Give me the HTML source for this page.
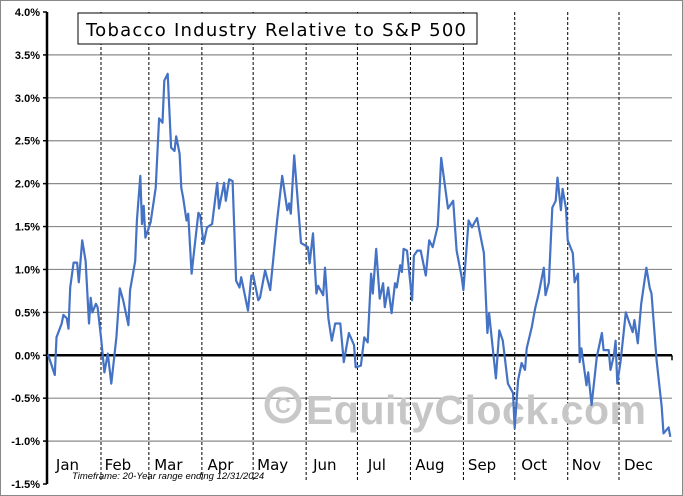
<!DOCTYPE html>
<html><head><meta charset="utf-8"><style>
html,body{margin:0;padding:0;background:#fff;}
svg{display:block;font-family:"Liberation Sans",sans-serif;}
</style></head><body>
<svg id="c" width="683" height="496" viewBox="0 0 683 496">
<rect x="0.5" y="0.5" width="682" height="495" fill="#fff" stroke="#888"/>
<g id="grid"></g>
<g id="vlines"></g>
<g id="ylabels"></g>
<g id="months"></g>
<g>
<circle cx="283" cy="405" r="16" fill="none" stroke="#c8c8c8" stroke-width="5"/>
<text x="283" y="413" font-size="22" font-weight="bold" fill="#c8c8c8" text-anchor="middle">C</text>
<text x="306" y="424" font-size="41" font-weight="bold" fill="#c6c6c6" textLength="340">EquityClock.com</text>
</g>
<line x1="47" y1="12" x2="47" y2="484" stroke="#000" stroke-width="2.5"/>
<path id="line" fill="none" stroke="#4472c4" stroke-width="2.2" stroke-linejoin="round"/>
<rect x="78" y="13" width="399" height="31" fill="#fff" stroke="#000"/>
<text x="86" y="36" font-size="18" fill="#000" font-family="DejaVu Sans, sans-serif" textLength="380">Tobacco Industry Relative to S&amp;P 500</text>
<text x="72" y="479" font-size="9.5" font-style="italic" fill="#000">Timeframe:  20-Year range ending 12/31/2024</text>
</svg>
<script>
const days=[0,4,5,8,9,11,12,13,15,17,18,20,22,24,25,26,28,29,31,33,35,37,40,42,44,47,48,51,52,54,55,56,57,60,63,65,67,68,70,72,74,75,77,78,79,81,82,84,85,88,89,91,93,96,99,100,103,104,106,108,110,112,113,117,119,120,123,124,127,130,134,137,140,141,142,144,148,152,153,155,157,158,161,162,164,166,168,171,173,176,179,180,183,185,187,189,190,192,194,196,197,199,201,203,204,206,207,208,210,213,214,216,218,221,223,225,228,230,234,237,239,242,243,246,248,249,251,252,255,257,258,262,264,266,269,272,273,275,277,279,280,283,285,287,290,291,293,295,297,298,300,301,303,304,307,308,310,311,312,315,316,318,321,324,325,328,329,331,332,333,335,338,340,342,343,345,347,350,352,353,356,359,360,363,364];
const values=[0.01,-0.23,0.21,0.37,0.47,0.43,0.31,0.79,1.08,1.08,0.85,1.34,1.10,0.37,0.67,0.50,0.60,0.56,0.21,-0.20,0.02,-0.33,0.21,0.78,0.64,0.35,0.76,1.10,1.57,2.09,1.53,1.74,1.37,1.55,1.95,2.76,2.71,3.20,3.28,2.42,2.38,2.55,2.35,1.95,1.84,1.57,1.65,0.95,1.13,1.66,1.63,1.30,1.49,1.53,2.01,1.71,2.01,1.80,2.05,2.03,0.87,0.79,0.91,0.52,0.93,0.93,0.64,0.67,0.99,0.76,1.57,2.09,1.69,1.77,1.65,2.33,1.31,1.26,1.07,1.42,0.72,0.81,0.70,1.02,0.43,0.17,0.37,0.37,-0.08,0.26,0.12,-0.14,-0.12,0.21,0.15,0.95,0.72,1.24,0.66,0.84,0.56,0.79,0.49,0.84,0.79,1.05,0.97,1.24,1.22,0.64,1.16,1.22,1.22,0.93,1.34,1.26,1.51,2.30,1.71,1.80,1.22,0.91,0.76,1.57,1.49,1.53,1.60,1.49,1.19,0.26,0.49,-0.27,0.29,0.17,-0.33,-0.44,-0.85,-0.29,-0.09,-0.17,0.08,0.33,0.55,0.72,1.02,0.70,0.85,1.72,1.80,2.07,1.69,1.94,1.71,1.34,1.19,0.85,0.95,-0.08,0.08,-0.35,-0.20,-0.58,-0.02,0.26,0.06,0.06,-0.17,0.00,0.17,-0.33,-0.06,0.50,0.38,0.27,0.41,0.14,0.60,1.02,0.78,0.72,-0.06,-0.60,-0.91,-0.84,-0.95];
const yTicks=[4.0,3.5,3.0,2.5,2.0,1.5,1.0,0.5,0.0,-0.5,-1.0,-1.5];
const months=["Jan","Feb","Mar","Apr","May","Jun","Jul","Aug","Sep","Oct","Nov","Dec"];
const monthStarts=[0,31,59,90,120,151,181,212,243,273,304,334,365];

const NS="http://www.w3.org/2000/svg";
const X0=47,X1=672,Y0=12,Y1=484,VMAX=4,VMIN=-1.5;
const xs=d=>X0+1+d*(X1-X0-1)/365;
const ys=v=>Y0+(VMAX-v)*(Y1-Y0)/(VMAX-VMIN);
function mk(tag,attrs,parent){const e=document.createElementNS(NS,tag);for(const k in attrs)e.setAttribute(k,attrs[k]);document.getElementById(parent).appendChild(e);return e;}

yTicks.forEach(v=>{
  const y=ys(v);
  if(v!==VMAX&&v!==VMIN){
    const g=mk('line',{x1:X0,x2:X1,y1:y,y2:y,stroke:v===0?'#000':'#8a8a8a','stroke-width':v===0?2.5:1.2},'grid');
    
    
  }
  const t=mk('line',{x1:X0-4,x2:X0,y1:y,y2:y,stroke:'#000','stroke-width':1.5},'grid');
  
  
  const l=mk('text',{x:40,y:y+4,'font-size':11,'font-weight':'bold','text-anchor':'end',fill:'#000'},'ylabels');
  l.textContent=v.toFixed(1)+'%';
  
  
});
const zt=mk('line',{x1:X1,x2:X1,y1:ys(0),y2:ys(0)+5,stroke:'#000','stroke-width':1.5},'grid');



months.forEach((m,i)=>{
  if(i>0){
    const x=xs(monthStarts[i]);
    const vl=mk('line',{x1:x,x2:x,y1:Y0,y2:Y1-2,stroke:'#000','stroke-width':1,'stroke-dasharray':'3,2'},'vlines');
    
    
  }
  const cx=(xs(monthStarts[i])+xs(monthStarts[i+1]))/2-7;
  const t=mk('text',{x:cx,y:470,'font-size':15,'text-anchor':'middle',fill:'#000','font-family':'DejaVu Sans, sans-serif'},'months');
  t.textContent=m;
  
  
});

document.getElementById('line').setAttribute('d',days.map((d,i)=>(i?'L':'M')+xs(d).toFixed(1)+','+ys(values[i]).toFixed(1)).join(''));
</script>
</body></html>
